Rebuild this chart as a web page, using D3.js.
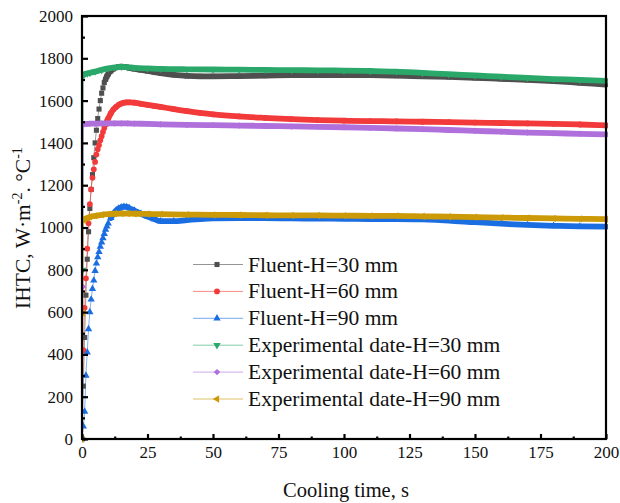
<!DOCTYPE html>
<html>
<head>
<meta charset="utf-8">
<script src="https://cdn.jsdelivr.net/npm/d3@7"></script>
<style>
  body { margin: 0; background: #fff; }
  svg text { font-family: "Liberation Serif", "Times New Roman", serif; fill: #111; }
</style>
</head>
<body>
<div id="chart"></div>
<script>
// === data
const fluentTime = [0,0.5,1,1.5,2,2.5,3,3.5,4,4.5,5,5.5,6,6.5,7,7.5,8,8.5,9,9.5,10,
  11,12,13,14,15,16,17,18,20,22.5,25,27.5,30,35,40,45,50,60,70,80,90,100,
  110,120,130,140,150,160,170,180,190,200];
const fluentH30 = [0,250,480,680,850,980,1090,1180,1250,1330,1400,1460,1515,1560,1600,1635,1660,1685,1700,1715,1725,
  1740,1750,1756,1760,1761,1760,1758,1755,1750,1745,1740,1735,1730,1722,1717,1715,1715,1716,1718,1720,1721,1721,
  1720,1718,1715,1712,1708,1703,1698,1692,1684,1676];
const fluentH60 = [0,420,620,760,900,1020,1110,1180,1235,1275,1310,1345,1370,1390,1412,1432,1452,1470,1487,1502,1515,
  1540,1558,1570,1580,1586,1590,1592,1592,1590,1585,1580,1575,1570,1560,1550,1542,1535,1525,1518,1512,1508,1505,
  1503,1502,1500,1498,1496,1494,1492,1490,1487,1483];
const fluentH90 = [0,60,130,300,410,520,600,660,710,750,795,830,860,885,910,930,950,970,990,1005,1020,
  1045,1065,1080,1090,1096,1098,1097,1092,1080,1065,1052,1040,1030,1030,1035,1040,1043,1044,1044,1043,1042,1041,
  1040,1040,1038,1033,1025,1018,1012,1008,1005,1004];

const expTime = [0,0.3,0.6,1,2,3,5,7.5,10,12.5,15,17.5,20,25,30,40,50,60,70,80,90,100,
  110,120,130,140,150,160,170,180,190,200];
const expH30 = [0,800,1722,1725,1728,1731,1737,1745,1752,1757,1760,1758,1755,1752,1750,1748,1747,1746,1745,1744,1743,1742,
  1740,1737,1731,1725,1719,1713,1707,1702,1698,1693];
const expH60 = [0,720,1488,1490,1490,1491,1491,1492,1492,1492,1492,1492,1491,1490,1488,1485,1484,1482,1480,1478,1476,1474,
  1471,1468,1465,1461,1457,1453,1449,1446,1443,1440];
const expH90 = [0,595,1035,1040,1045,1050,1055,1060,1063,1065,1066,1066,1065,1064,1063,1061,1060,1059,1058,1057,1057,1056,
  1055,1055,1053,1051,1049,1047,1045,1043,1041,1040];

const seriesNames = ["Fluent-H=30 mm","Fluent-H=60 mm","Fluent-H=90 mm",
  "Experimental date-H=30 mm","Experimental date-H=60 mm","Experimental date-H=90 mm"];
const xTicks = [0,25,50,75,100,125,150,175,200];
const yTicks = [0,200,400,600,800,1000,1200,1400,1600,1800,2000];

// === styling
const colors = ["#4f4f4f","#f23a3a","#1b6de2","#2aa86a","#b070dc","#cc9a08"];
const shapes = ["square","circle","up","down","diamond","left"];
const bandFrom = [9,9,11,0.6,0.6,0.6];
const series = [
  {t: fluentTime, v: fluentH30}, {t: fluentTime, v: fluentH60}, {t: fluentTime, v: fluentH90},
  {t: expTime, v: expH30}, {t: expTime, v: expH60}, {t: expTime, v: expH90}
].map((s, i) => ({
  name: seriesNames[i], color: colors[i], shape: shapes[i], band: bandFrom[i],
  pts: s.t.map((t, j) => ({t: t, v: s.v[j]}))
}));

const W = 620, H = 503;
const box = {x1: 82, y1: 16, x2: 606, y2: 439};

const svg = d3.select("#chart").append("svg")
  .attr("width", W).attr("height", H)
  .attr("viewBox", "0 0 " + W + " " + H);

const x = d3.scaleLinear().domain([0, 200]).range([box.x1, box.x2]);
const y = d3.scaleLinear().domain([0, 2000]).range([box.y2, box.y1]);

function markerPath(shape, size){
  if (shape == "square") return d3.symbol(d3.symbolSquare, size)();
  if (shape == "circle") return d3.symbol(d3.symbolCircle, size)();
  if (shape == "diamond") return d3.symbol(d3.symbolSquare, size * 0.8)();
  return d3.symbol(d3.symbolTriangle, size * 0.9)();
}
function markerRot(shape){
  if (shape == "down") return 180;
  if (shape == "left") return -90;
  if (shape == "diamond") return 45;
  return 0;
}

svg.append("defs").append("clipPath").attr("id", "plotClip")
  .append("rect").attr("x", box.x1).attr("y", box.y1 - 4)
  .attr("width", box.x2 - box.x1 + 2).attr("height", box.y2 - box.y1 + 8);

const plot = svg.append("g").attr("clip-path", "url(#plotClip)");
const line = d3.line().x(d => x(d.t)).y(d => y(d.v)).curve(d3.curveMonotoneX);

// thin connecting lines first, then bands and markers
for (const s of series){
  plot.append("path").datum(s.pts)
    .attr("fill", "none").attr("stroke", s.color).attr("stroke-opacity", 0.55)
    .attr("stroke-width", 1).attr("d", line);
}
for (const s of series){
  plot.append("path").datum(s.pts.filter(d => d.t >= s.band))
    .attr("fill", "none").attr("stroke", s.color)
    .attr("stroke-width", 5.8).attr("stroke-linecap", "round").attr("d", line);
  plot.append("g").selectAll("path").data(s.pts).join("path")
    .attr("d", markerPath(s.shape, 26))
    .attr("transform", d => "translate(" + x(d.t) + "," + y(d.v) + ") rotate(" + markerRot(s.shape) + ")")
    .attr("fill", s.color);
}

// === axes: inward ticks, bottom and left only
const xAxis = d3.axisBottom(x).tickValues(xTicks).tickSize(-5).tickPadding(7).tickFormat(d3.format("d"));
const xMinor = d3.axisBottom(x).tickValues(xTicks.slice(0, -1).map(d => d + 12.5)).tickSize(-2.5).tickFormat("");
const yAxis = d3.axisLeft(y).tickValues(yTicks).tickSize(-6).tickPadding(9).tickFormat(d3.format("d"));
const yMinor = d3.axisLeft(y).tickValues(yTicks.slice(0, -1).map(d => d + 100)).tickSize(-3).tickFormat("");

function styleAxis(g){
  g.select(".domain").remove();
  g.selectAll(".tick line").attr("stroke", "#000").attr("stroke-width", 2.2);
  g.selectAll(".tick text").style("font-size", "17px").attr("fill", "#111");
}
svg.append("g").attr("transform", "translate(0," + box.y2 + ")").call(xAxis).call(styleAxis);
svg.append("g").attr("transform", "translate(0," + box.y2 + ")").call(xMinor).call(styleAxis);
svg.append("g").attr("transform", "translate(" + box.x1 + ",0)").call(yAxis).call(styleAxis);
svg.append("g").attr("transform", "translate(" + box.x1 + ",0)").call(yMinor).call(styleAxis);

svg.append("rect")
  .attr("x", box.x1).attr("y", box.y1)
  .attr("width", box.x2 - box.x1).attr("height", box.y2 - box.y1)
  .attr("fill", "none").attr("stroke", "#000").attr("stroke-width", 2.2);

// === axis titles
svg.append("text").attr("x", (box.x1 + box.x2) / 2 + 2).attr("y", 497)
  .attr("text-anchor", "middle").style("font-size", "20.5px").text("Cooling time, s");

const yTitle = svg.append("text")
  .attr("transform", "translate(30,228) rotate(-90)")
  .attr("text-anchor", "middle").style("font-size", "21.5px");
yTitle.append("tspan").text("IHTC, W\u00b7m");
yTitle.append("tspan").attr("dy", -8).style("font-size", "14px").text("-2");
yTitle.append("tspan").attr("dy", 8).text(". \u00b0C");
yTitle.append("tspan").attr("dy", -8).style("font-size", "14px").text("-1");

// === legend
const legend = svg.append("g");
const legendRows = series.map((s, i) => ({s: s, y: 264.5 + i * 26.9}));
for (const r of legendRows){
  legend.append("line").attr("x1", 193).attr("x2", 243).attr("y1", r.y).attr("y2", r.y)
    .attr("stroke", r.s.color).attr("stroke-opacity", 0.6).attr("stroke-width", 1);
  legend.append("path").attr("d", markerPath(r.s.shape, 26))
    .attr("transform", "translate(217," + r.y + ") rotate(" + markerRot(r.s.shape) + ")")
    .attr("fill", r.s.color);
  legend.append("text").attr("x", 248).attr("y", r.y + 7)
    .style("font-size", "21.5px").text(r.s.name);
}
</script>
</body>
</html>
